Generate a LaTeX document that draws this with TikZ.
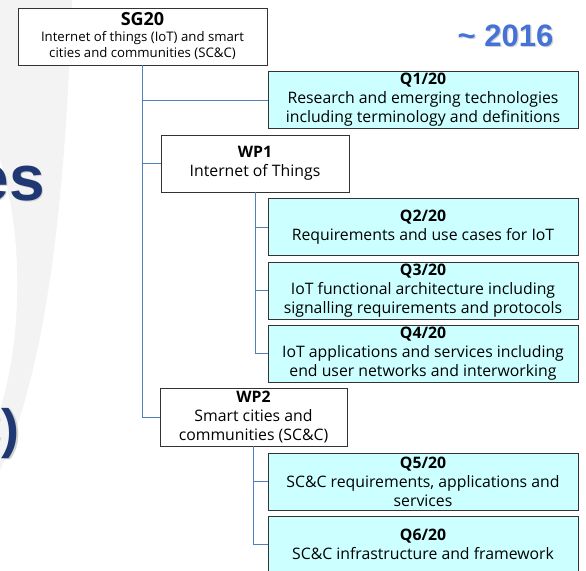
\documentclass[tikz,border=0pt]{standalone}
\usepackage{fontspec}
\setmainfont{Open Sans}
\newfontfamily\slidefont{Liberation Sans}
\definecolor{linkblue}{RGB}{79,129,189}
\definecolor{qcyan}{RGB}{204,255,255}
\definecolor{navy}{RGB}{31,56,115}
\definecolor{yearblue}{RGB}{68,114,214}
\definecolor{swoosh}{RGB}{243,243,243}
\begin{document}
\begin{tikzpicture}[x=1pt,y=-1pt,
   box/.style={draw=black!80,line width=0.8pt,fill=white,inner sep=0pt,
      align=center,font=\fontsize{15.8}{19}\selectfont},
   qbox/.style={box,fill=qcyan,minimum width=310pt,minimum height=57pt},
   wpbox/.style={box,minimum width=188pt,minimum height=57pt},
   link/.style={draw=linkblue,line width=0.9pt},
   slide/.style={inner sep=0pt,font=\slidefont\bfseries}]
   \useasboundingbox (0,0) rectangle (586,570);
   \clip (0,0) rectangle (586,570);

   % slide background
   \fill[swoosh] (0,0) -- (72,0) .. controls (66,180) and (50,360) .. (0,470) -- cycle;
   \fill[white] (0,160) .. controls (22,230) and (24,330) .. (0,410) -- cycle;

   \node[slide,anchor=base east,text=black!18,font=\slidefont\bfseries\fontsize{64}{64}\selectfont]
      (es shadow) at (46.2,201.2) {es};
   \node[slide,anchor=base east,text=navy,font=\slidefont\bfseries\fontsize{64}{64}\selectfont]
      (es) at (45,200) {es};
   \node[slide,anchor=base east,text=black!18,font=\slidefont\bfseries\fontsize{54}{54}\selectfont]
      (paren shadow) at (21.2,448.2) {C)};
   \node[slide,anchor=base east,text=navy,font=\slidefont\bfseries\fontsize{54}{54}\selectfont]
      (paren) at (20,447) {C)};
   \node[slide,anchor=base west,text=black!18,font=\slidefont\bfseries\fontsize{31}{31}\selectfont]
      (year shadow) at (458.7,47.2) {\textasciitilde\ 2016};
   \node[slide,anchor=base west,text=yearblue,font=\slidefont\bfseries\fontsize{31}{31}\selectfont]
      (year) at (457.5,46) {\textasciitilde\ 2016};

   % study group, working parties, questions
   \node[box,minimum width=249pt,minimum height=57pt,font=\fontsize{13.2}{16}\selectfont]
      (sg) at (142.5,36.5)
      {{\fontsize{18}{18}\selectfont\bfseries SG20}\\Internet of things (IoT) and smart\\cities and communities (SC\&C)};
   \node[qbox] (q1) at (423,100)
      {\textbf{Q1/20}\\Research and emerging technologies\\including terminology and definitions};
   \node[wpbox] (wp1) at (255,163.5) {\textbf{WP1}\\Internet of Things};
   \node[qbox] (q2) at (423,227) {\textbf{Q2/20}\\Requirements and use cases for IoT};
   \node[qbox] (q3) at (423,290.5)
      {\textbf{Q3/20}\\IoT functional architecture including\\signalling requirements and protocols};
   \node[qbox] (q4) at (423,353.5)
      {\textbf{Q4/20}\\IoT applications and services including\\end user networks and interworking};
   \node[wpbox,minimum width=187pt,minimum height=58pt] (wp2) at (253.5,417)
      {\textbf{WP2}\\Smart cities and\\communities (SC\&C)};
   \node[qbox] (q5) at (423,481.5)
      {\textbf{Q5/20}\\SC\&C requirements, applications and\\services};
   \node[qbox] (q6) at (423,544.5) {\textbf{Q6/20}\\SC\&C infrastructure and framework};

   \draw[link] (sg.south) |- (q1.west);
   \draw[link] (sg.south) |- (wp1.west);
   \draw[link] (sg.south) |- (wp2.west);
   \draw[link] (wp1.south) |- (q2.west);
   \draw[link] (wp1.south) |- (q3.west);
   \draw[link] (wp1.south) |- (q4.west);
   \draw[link] (wp2.south) |- (q5.west);
   \draw[link] (wp2.south) |- (q6.west);
\end{tikzpicture}
\end{document}
